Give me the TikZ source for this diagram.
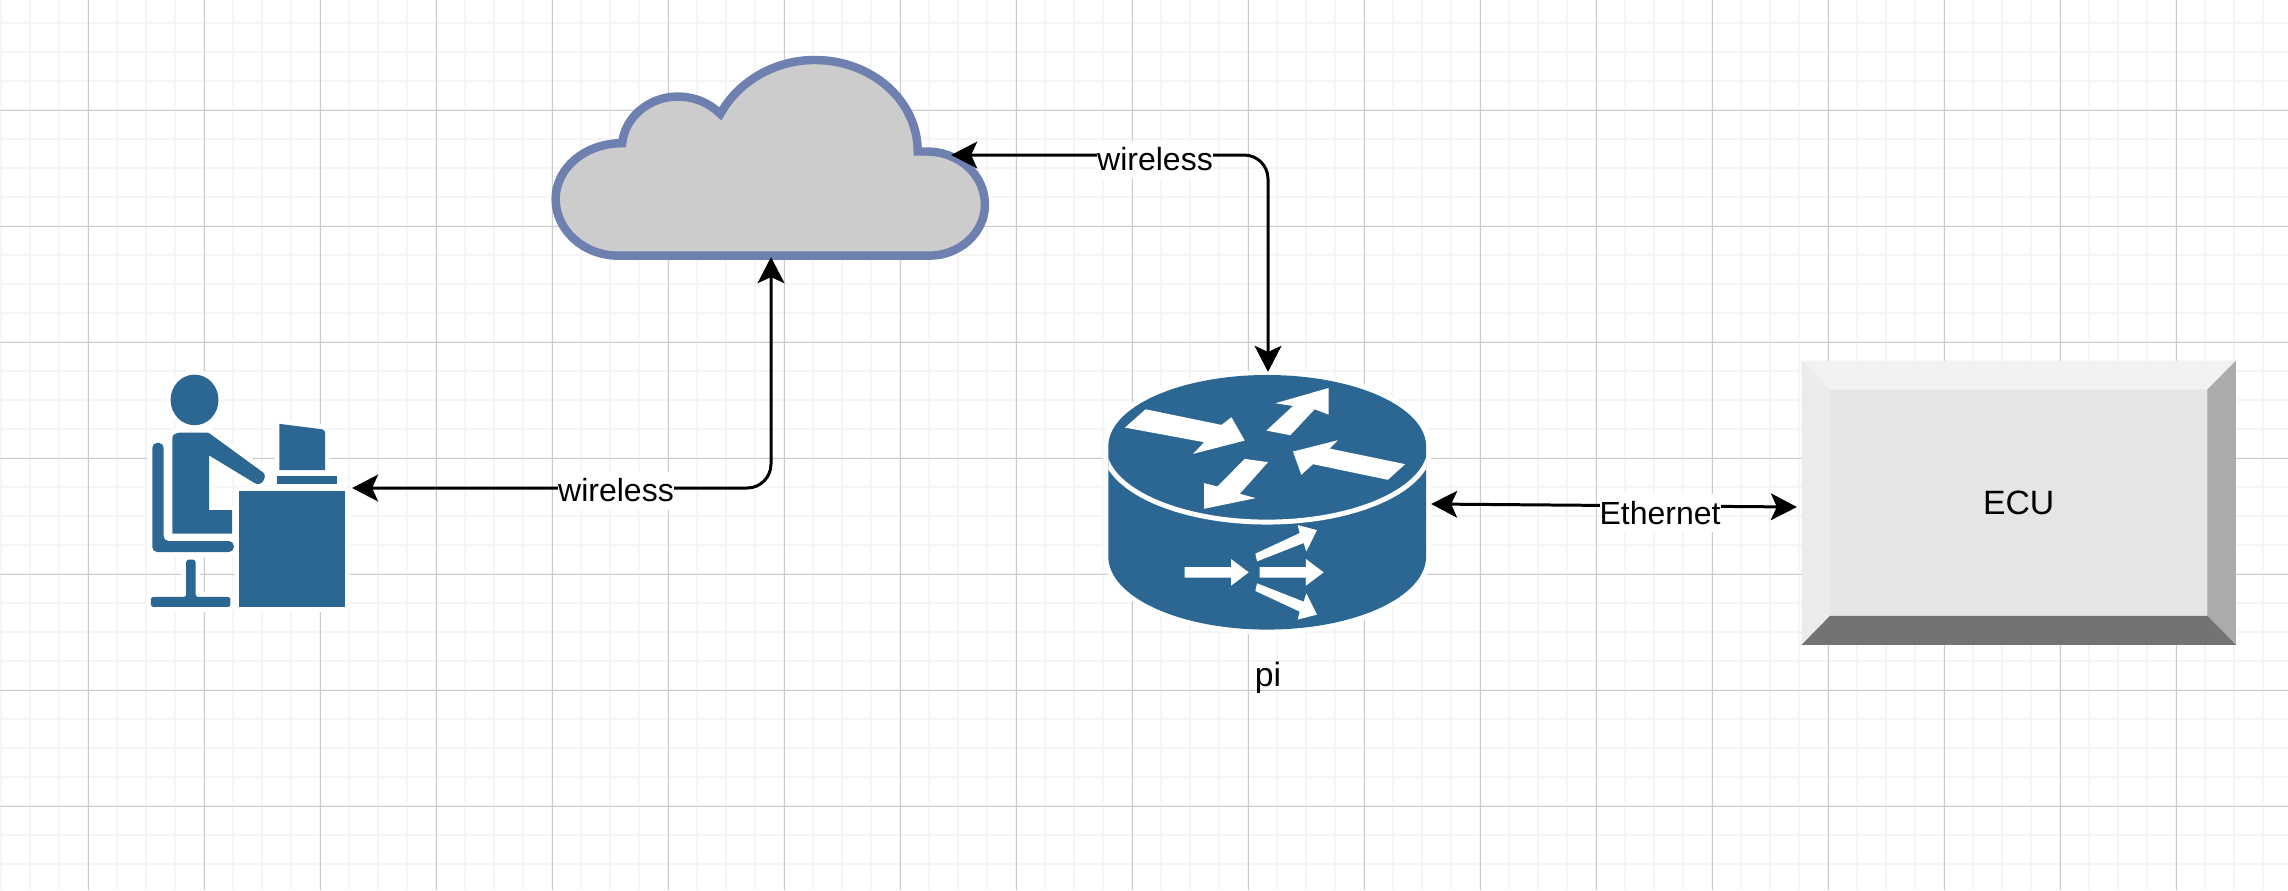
\documentclass[tikz,border=0pt]{standalone}
\usepackage{fontspec}
\setmainfont{Liberation Sans}
\usetikzlibrary{arrows.meta}
\definecolor{gridminor}{HTML}{F5F5F5}
\definecolor{gridmajor}{HTML}{CACACA}
\definecolor{iconblue}{HTML}{2C6793}
\definecolor{cloudedge}{HTML}{6E80AF}
\definecolor{cloudfill}{HTML}{CCCCCC}
\tikzset{
	minorline/.style={gridminor,line width=0.55pt},
	majorline/.style={gridmajor,line width=0.35pt},
	icon/.style={fill=iconblue,preaction={draw=white,line width=2.8pt}},
	cutout/.style={fill=white},
	spot/.style={inner sep=0pt,outer sep=0pt},
	bigtext/.style={font=\fontsize{9.6}{11}\selectfont},
	link/.style={<->,line width=0.85pt,rounded corners=6.8pt},
	tag/.style={fill=white,inner sep=0pt,anchor=base,text height=8.5pt,text depth=2.3pt},
}
\begin{document}
\begin{tikzpicture}[>={Stealth[length=7.4pt,width=7.6pt,inset=1.7pt]},line join=round,font=\fontsize{9.1}{11}\selectfont,x=0.01cm,y=-0.01cm]
		\useasboundingbox (0,0) rectangle (2288,890);
		\fill[white] (0,0) rectangle (2288,890);
		\foreach \gx in {1,30,...,2288} \draw[minorline] (\gx,0)--(\gx,890);
		\foreach \gy in {23,52,...,890} \draw[minorline] (0,\gy)--(2288,\gy);
		\foreach \gx in {88,204,...,2288} \draw[majorline] (\gx+0.3,0)--(\gx+0.3,890);
		\foreach \gy in {110,226,...,890} \draw[majorline] (0,\gy+0.3)--(2288,\gy+0.3);
		\node[spot,minimum width=2.02cm,minimum height=2.38cm] (user) at (251,488) {};
		\node[spot,minimum width=3.6cm,minimum height=2.04cm] (cloud) at (771,155) {};
		\node[spot,minimum width=3.26cm,minimum height=2.64cm] (router) at (1268,504) {};
		\node[spot,bigtext,fill=black!10,minimum width=4.34cm,minimum height=2.84cm] (ecu) at (2018.7,502.7) {ECU};
		\coordinate (ecuA) at ([shift={(28.5,29)}]ecu.north west);
		\coordinate (ecuB) at ([shift={(-28.5,29)}]ecu.north east);
		\coordinate (ecuC) at ([shift={(-28.5,-29)}]ecu.south east);
		\coordinate (ecuD) at ([shift={(28.5,-29)}]ecu.south west);
		\fill[black!5] (ecu.north west)--(ecu.north east)--(ecuB)--(ecuA)--cycle;
		\fill[black!8] (ecu.north west)--(ecuA)--(ecuD)--(ecu.south west)--cycle;
		\fill[black!33] (ecu.north east)--(ecuB)--(ecuC)--(ecu.south east)--cycle;
		\fill[black!55] (ecu.south west)--(ecuD)--(ecuC)--(ecu.south east)--cycle;
		\begin{scope}[shift={(120,340)},x=0.00333cm,y=-0.00333cm]
			\path[icon] (224,180) ellipse [x radius=72,y radius=76];
			\path[icon] (157,582)--(157,295) .. controls (157,283) and (170,278) .. (185,278)--(260,278) .. controls (266,278) and (270,281) .. (275,285)--(430,398) .. controls (445,412) and (425,442) .. (405,430)--(268,347)--(268,511)--(337,511)--(337,582)--cycle;
			\path[icon,rounded corners=1.4pt] (97,637)--(97,309)--(131,309)--(131,604)--(342,604)--(342,637)--cycle;
			\path[icon,rounded corners=0.7pt] (199,660)--(227,660)--(227,772)--(332,772)--(332,802)--(93,802)--(93,772)--(199,772)--cycle;
			\path[icon] (359,455) rectangle (677,802);
			\path[icon] (479,252)--(606,268) .. controls (612,269) and (616,272) .. (616,278)--(616,391)--(479,391)--cycle;
			\path[icon] (473,408) rectangle (653,434);
		\end{scope}
		\begin{scope}[shift={(530,40)},x=0.00333cm,y=-0.00333cm]
			\draw[cloudedge,fill=cloudfill,line width=2.4pt,line join=miter,miter limit=4]
			(265,648) .. controls (160,648) and (77,570) .. (77,478)
			.. controls (77,385) and (165,310) .. (277,310)
			.. controls (285,230) and (360,170) .. (443,170)
			.. controls (495,170) and (540,190) .. (572,222)
			.. controls (625,125) and (735,60) .. (855,60)
			.. controls (1025,60) and (1165,180) .. (1165,335)
			--(1190,335) .. controls (1290,335) and (1367,405) .. (1367,495)
			.. controls (1367,580) and (1290,648) .. (1200,648)--cycle;
		\end{scope}
		\begin{scope}[shift={(1080,360)},x=0.00333cm,y=-0.00333cm]
			\path[icon] (85,260)--(85,590) .. controls (85,712) and (299,810) .. (562,810)
			.. controls (826,810) and (1040,712) .. (1040,590)--(1040,260)
			.. controls (1040,141) and (826,45) .. (562,45)
			.. controls (299,45) and (85,141) .. (85,260)--cycle;
			\begin{scope}
				\clip (85,262) rectangle (1040,600);
				\draw[white,line width=1.4pt] (562,262) ellipse [x radius=490,y radius=225];
			\end{scope}
			\fill[cutout] (135,203)--(197,148)--(425,195)--(455,172)--(495,242)--(340,282)--(373,247)--cycle;
			\fill[cutout] (560,212)--(640,138)--(587,130)--(747,84)--(747,164)--(705,148)--(632,226)--cycle;
			\fill[cutout] (977,313)--(925,360)--(700,313)--(665,345)--(640,275)--(775,241)--(750,266)--cycle;
			\fill[cutout] (565,307)--(480,402)--(528,415)--(373,447)--(373,370)--(413,380)--(495,297)--cycle;
			\fill[cutout] (314,622)--(454,622)--(454,598)--(507,638)--(454,678)--(454,654)--(314,654)--cycle;
			\fill[cutout] (540,622)--(679,622)--(679,598)--(732,638)--(679,678)--(679,654)--(540,654)--cycle;
			\fill[cutout] (527,582)--(660,520)--(654,496)--(712,511)--(680,575)--(672,550)--(532,605)--cycle;
			\fill[cutout] (527,694)--(660,756)--(654,780)--(712,765)--(680,701)--(672,726)--(532,671)--cycle;
		\end{scope}
		\draw[link] (user.east) -| (cloud.south);
		\draw[link] (cloud.east) -| (router.north);
		\draw[link] (router.east)--([shift={(-4.7,4.3)}]ecu.west);
		\node[tag] (wirelessA) at (616,501.7) {wireless};
		\node[tag] (wirelessB) at (1155,170.7) {wireless};
		\node[tag] (ethernet) at (1660,524) {Ethernet};
		\node[spot,bigtext,anchor=base] (pi) at (1268,686) {pi};
		\end{tikzpicture}
\end{document}
